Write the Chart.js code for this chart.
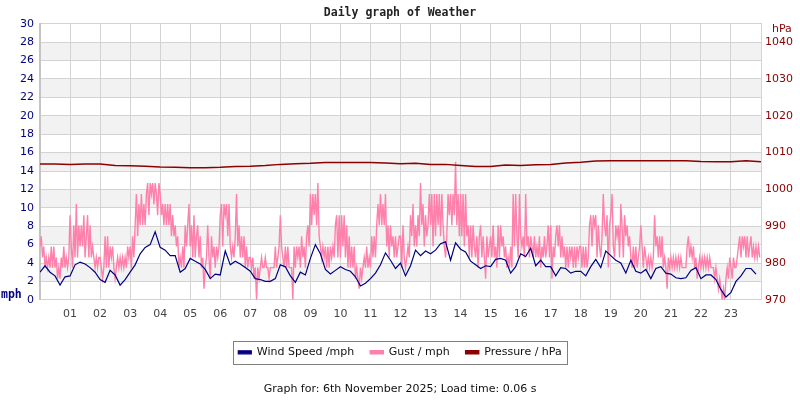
<!DOCTYPE html>
<html>
<head>
<meta charset="utf-8">
<script src="https://cdn.jsdelivr.net/npm/chart.js@4.4.1/dist/chart.umd.min.js"></script>
<style>
  html, body { margin: 0; padding: 0; background: #fff; }
  canvas { display: block; }
</style>
</head>
<body>
<canvas id="weatherChart" width="800" height="400"></canvas>
<script>
// Hour labels along the bottom
const hourLabels = ['01','02','03','04','05','06','07','08','09','10','11','12',
  '13','14','15','16','17','18','19','20','21','22','23'];

// Wind speed, mph, one reading every 10 minutes (6 per hour)
const windSpeed = [
  3.0, 3.7, 3.0, 2.6, 1.6, 2.5,
  2.6, 3.8, 4.1, 3.9, 3.5, 3.0,
  2.2, 1.9, 3.2, 2.7, 1.6, 2.2,
  3.0, 3.8, 5.0, 5.7, 6.0, 7.4,
  5.7, 5.4, 4.8, 4.8, 3.0, 3.4,
  4.5, 4.2, 3.9, 3.3, 2.3, 2.8,
  2.7, 5.3, 3.8, 4.2, 3.9, 3.5,
  3.1, 2.3, 2.2, 2.0, 2.0, 2.3,
  3.8, 3.6, 2.6, 1.9, 3.0, 2.7,
  4.5, 6.0, 5.0, 3.3, 2.8, 3.2,
  3.6, 3.3, 3.1, 2.5, 1.5, 1.8,
  2.3, 2.9, 3.8, 5.1, 4.3, 3.4,
  4.0, 2.6, 3.7, 5.4, 4.8, 5.3,
  5.0, 5.4, 6.1, 6.3, 4.3, 6.2,
  5.5, 5.2, 4.2, 3.8, 3.4, 3.7,
  3.6, 4.4, 4.5, 4.3, 2.9, 3.6,
  5.0, 4.7, 5.6, 3.7, 4.3, 3.6,
  3.6, 2.6, 3.5, 3.4, 2.9, 3.1,
  3.1, 2.6, 3.6, 4.4, 3.5, 5.3,
  4.8, 4.3, 4.0, 2.9, 4.3, 3.1,
  2.9, 3.3, 2.3, 3.4, 3.6, 2.9,
  2.8, 2.4, 2.3, 2.4, 3.2, 3.5,
  2.3, 2.7, 2.7, 2.2, 1.1, 0.3,
  0.8, 2.0, 2.6, 3.4, 3.4, 2.8
];

// Gust, mph, one reading every 2.5 minutes (24 per hour, one row per hour)
const gust = [
  5.8, 6.9, 4.6, 5.8, 3.5, 4.6, 3.5, 4.6, 3.5, 5.8, 3.5, 5.8, 3.5, 4.6, 2.3, 3.5, 2.3, 4.6, 3.5, 5.8, 3.5, 4.6, 3.5, 4.6,
  9.2, 5.8, 3.5, 8.1, 4.6, 10.4, 4.6, 8.1, 5.8, 8.1, 5.8, 9.2, 4.6, 6.9, 9.2, 4.6, 8.1, 4.6, 5.8, 4.6, 3.5, 4.6, 3.5, 4.6,
  4.6, 3.5, 2.3, 3.5, 6.9, 3.5, 6.9, 3.5, 5.8, 4.6, 5.8, 3.5, 2.3, 3.5, 4.6, 3.5, 4.6, 3.5, 4.6, 3.5, 4.6, 3.5, 5.8, 4.6,
  5.8, 3.5, 6.9, 4.6, 8.1, 11.5, 6.9, 10.4, 8.1, 11.5, 8.1, 10.4, 8.1, 11.5, 12.7, 9.2, 12.7, 11.5, 12.7, 10.4, 12.7, 11.5, 9.2, 12.7,
  11.5, 9.2, 10.4, 8.1, 10.4, 8.1, 10.4, 8.1, 10.4, 6.9, 9.2, 6.9, 8.1, 5.8, 6.9, 3.5, 4.6, 3.5, 5.8, 3.5, 8.1, 5.8, 8.1, 10.4,
  5.8, 8.1, 4.6, 9.2, 4.6, 6.9, 8.1, 4.6, 6.9, 3.5, 4.6, 1.2, 3.5, 4.6, 8.1, 4.6, 2.3, 6.9, 4.6, 5.8, 3.5, 5.8, 4.6, 5.8,
  9.2, 10.4, 5.8, 10.4, 9.2, 10.4, 6.9, 10.4, 5.8, 4.6, 5.8, 4.6, 6.9, 11.5, 5.8, 8.1, 4.6, 6.9, 4.6, 6.9, 3.5, 5.8, 3.5, 4.6,
  4.6, 3.5, 4.6, 2.3, 3.5, 0, 3.5, 2.3, 3.5, 4.6, 3.5, 3.5, 4.6, 3.5, 3.5, 2.3, 3.5, 3.5, 3.5, 3.5, 5.8, 3.5, 4.6, 5.8,
  9.2, 5.8, 4.6, 3.5, 5.8, 3.5, 5.8, 3.5, 3.5, 3.5, 0, 5.8, 3.5, 5.8, 4.6, 5.8, 3.5, 6.9, 4.6, 5.8, 3.5, 6.9, 8.1, 5.8,
  11.5, 8.1, 11.5, 9.2, 11.5, 8.1, 12.7, 6.9, 5.8, 4.6, 5.8, 4.6, 5.8, 3.5, 5.8, 3.5, 5.8, 4.6, 5.8, 4.6, 8.1, 9.2, 4.6, 9.2,
  4.6, 9.2, 5.8, 9.2, 4.6, 8.1, 3.5, 6.9, 3.5, 5.8, 3.5, 5.8, 2.3, 3.5, 2.3, 1.2, 3.5, 2.3, 3.5, 4.6, 3.5, 5.8, 3.5, 4.6,
  3.5, 6.9, 4.6, 6.9, 4.6, 8.1, 10.4, 8.1, 11.5, 8.1, 10.4, 8.1, 11.5, 5.8, 8.1, 4.6, 8.1, 5.8, 6.9, 4.6, 6.9, 4.6, 5.8, 6.9,
  6.9, 3.5, 8.1, 4.6, 3.5, 4.6, 5.8, 4.6, 9.2, 6.9, 10.4, 5.8, 8.1, 5.8, 9.2, 6.9, 12.7, 8.1, 10.4, 5.8, 9.2, 6.9, 8.1, 11.5,
  8.1, 11.5, 5.8, 11.5, 6.9, 11.5, 8.1, 11.5, 6.9, 11.5, 8.1, 5.8, 4.6, 6.9, 11.5, 9.2, 11.5, 8.1, 11.5, 9.2, 15.0, 8.1, 11.5, 6.9,
  11.5, 6.9, 11.5, 5.8, 11.5, 6.9, 8.1, 4.6, 8.1, 4.6, 8.1, 5.8, 4.6, 6.9, 3.5, 6.9, 8.1, 4.6, 6.9, 4.6, 2.3, 6.9, 4.6, 5.8,
  6.9, 4.6, 8.1, 4.6, 5.8, 3.5, 8.1, 4.6, 8.1, 5.8, 6.9, 4.6, 5.8, 3.5, 4.6, 3.5, 5.8, 3.5, 11.5, 5.8, 11.5, 6.9, 4.6, 11.5,
  6.9, 5.8, 6.9, 4.6, 11.5, 5.8, 6.9, 4.6, 6.9, 5.8, 4.6, 6.9, 4.6, 5.8, 4.6, 6.9, 3.5, 5.8, 4.6, 6.9, 4.6, 5.8, 8.1, 4.6,
  8.1, 2.3, 5.8, 4.6, 6.9, 8.1, 5.8, 8.1, 4.6, 6.9, 4.6, 5.8, 3.5, 5.8, 3.5, 5.8, 4.6, 5.8, 3.5, 5.8, 3.5, 5.8, 4.6, 5.8,
  5.8, 3.5, 5.8, 3.5, 5.8, 3.5, 4.6, 8.1, 9.2, 5.8, 9.2, 8.1, 9.2, 4.6, 8.1, 5.8, 4.6, 6.9, 11.5, 8.1, 6.9, 9.2, 3.5, 8.1,
  9.2, 11.5, 5.8, 4.6, 8.1, 6.9, 8.1, 4.6, 10.4, 8.1, 4.6, 9.2, 6.9, 8.1, 5.8, 6.9, 4.6, 3.5, 5.8, 3.5, 5.8, 3.5, 4.6, 5.8,
  8.1, 5.8, 3.5, 5.8, 4.6, 3.5, 4.6, 3.5, 4.6, 3.5, 4.6, 9.2, 5.8, 6.9, 4.6, 6.9, 4.6, 6.9, 3.5, 4.6, 3.5, 1.2, 4.6, 3.5,
  4.6, 3.5, 4.6, 3.5, 4.6, 3.5, 4.6, 3.5, 4.6, 3.5, 3.5, 3.5, 3.5, 5.8, 6.9, 4.6, 5.8, 4.6, 5.8, 3.5, 4.6, 2.3, 3.5, 4.6,
  3.5, 4.6, 3.5, 4.6, 3.5, 4.6, 3.5, 4.6, 3.5, 3.5, 3.5, 2.3, 3.5, 2.3, 1.2, 2.3, 1.2, 0, 1.2, 0, 2.3, 3.5, 2.3, 4.6,
  3.5, 2.3, 4.6, 3.5, 3.5, 4.6, 5.8, 6.9, 4.6, 6.9, 5.8, 6.9, 4.6, 6.9, 4.6, 5.8, 6.9, 4.6, 5.8, 4.6, 5.8, 4.6, 5.8, 4.6
];

// Pressure, hPa, every half hour from 00:00 to 24:00
const pressure = [
  1006.9, 1006.9, 1006.8, 1006.9, 1006.9, 1006.5, 1006.4, 1006.3,
  1006.1, 1006.0, 1005.9, 1005.9, 1006.0, 1006.2, 1006.3, 1006.5,
  1006.8, 1007.0, 1007.1, 1007.3, 1007.3, 1007.3, 1007.3, 1007.2,
  1007.0, 1007.1, 1006.8, 1006.8, 1006.5, 1006.2, 1006.2, 1006.6,
  1006.5, 1006.7, 1006.8, 1007.2, 1007.4, 1007.7, 1007.8, 1007.8,
  1007.8, 1007.8, 1007.8, 1007.8, 1007.6, 1007.5, 1007.5, 1007.8,
  1007.5
];

const WIND_STEP = 10 / 60;   // hours between wind readings
const GUST_STEP = 2.5 / 60;  // hours between gust readings
const PRESS_STEP = 0.5;      // hours between pressure readings

const toPoints = (arr, step) => arr.map((v, i) => ({ x: i * step, y: v }));

const NAVY = '#000080';
const PINK = '#ff80aa';
const DARK_RED = '#8b0000';
const GRID = '#d3d3d3';

// shaded horizontal bands, every other 2 mph step
const bandsPlugin = {
  id: 'bands',
  beforeDraw(chart) {
    const { ctx, chartArea } = chart;
    const y = chart.scales.y;
    ctx.save();
    ctx.fillStyle = '#f2f2f2';
    y.ticks.forEach(t => {
      if (t.value % 4 === 2 && t.value + 2 <= y.max) {
        const top = y.getPixelForValue(t.value + 2);
        const bottom = y.getPixelForValue(t.value);
        ctx.fillRect(chartArea.left, top, chartArea.right - chartArea.left, bottom - top);
      }
    });
    ctx.restore();
  }
};

// legend frame and unit captions
const extrasPlugin = {
  id: 'extras',
  afterDraw(chart) {
    const { ctx, chartArea } = chart;
    const boxes = chart.legend.legendHitBoxes;
    if (boxes && boxes.length) {
      const left = Math.min(...boxes.map(b => b.left)) - 5;
      const right = Math.max(...boxes.map(b => b.left + b.width)) + 6;
      const top = boxes[0].top - 6;
      const bottom = boxes[0].top + boxes[0].height + 6;
      ctx.save();
      ctx.strokeStyle = '#808080';
      ctx.lineWidth = 1;
      ctx.strokeRect(Math.round(left) + 0.5, Math.round(top) + 0.5,
        Math.round(right - left), Math.round(bottom - top));
      ctx.restore();
    }
    ctx.save();
    ctx.textBaseline = 'middle';
    ctx.textAlign = 'left';
    ctx.fillStyle = NAVY;
    ctx.font = 'bold 11.5px "DejaVu Sans Mono"';
    ctx.fillText('mph', 1, chartArea.bottom - 5);
    ctx.fillStyle = DARK_RED;
    ctx.font = '11px "DejaVu Sans"';
    ctx.fillText('hPa', 772, 29);
    ctx.restore();
  }
};

new Chart(document.getElementById('weatherChart'), {
  type: 'line',
  data: {
    datasets: [
      {
        label: 'Wind Speed /mph',
        data: toPoints(windSpeed, WIND_STEP),
        borderColor: NAVY,
        backgroundColor: NAVY,
        borderWidth: 1.2,
        pointRadius: 0,
        yAxisID: 'y',
        order: 1
      },
      {
        label: 'Gust / mph',
        data: toPoints(gust, GUST_STEP),
        borderColor: PINK,
        backgroundColor: PINK,
        borderWidth: 1.4,
        pointRadius: 0,
        yAxisID: 'y',
        order: 2
      },
      {
        label: 'Pressure / hPa',
        data: toPoints(pressure, PRESS_STEP),
        borderColor: DARK_RED,
        backgroundColor: DARK_RED,
        borderWidth: 1.5,
        pointRadius: 0,
        yAxisID: 'y1',
        order: 0
      }
    ]
  },
  options: {
    responsive: false,
    animation: false,
    devicePixelRatio: 1,
    layout: { padding: 0 },
    scales: {
      x: {
        type: 'linear',
        min: 0,
        max: 24,
        afterFit: s => { s.height = 31; },
        grid: { color: GRID, drawTicks: false },
        border: { display: false },
        ticks: {
          stepSize: 1,
          padding: 8,
          color: '#444',
          font: { family: 'DejaVu Sans', size: 11 },
          maxRotation: 0,
          autoSkip: false,
          callback: v => hourLabels[v - 1] || ''
        }
      },
      y: {
        position: 'left',
        min: 0,
        max: 30,
        afterFit: s => { s.width = 40; },
        grid: { color: GRID, drawTicks: false },
        border: { display: true, color: '#c4c4c4', width: 2 },
        ticks: {
          stepSize: 2,
          padding: 6,
          color: NAVY,
          font: { family: 'DejaVu Sans', size: 11 }
        }
      },
      y1: {
        position: 'right',
        min: 970,
        max: 1045,
        afterFit: s => { s.width = 39; },
        grid: { drawOnChartArea: false, drawTicks: false },
        border: { display: true, color: GRID, width: 1 },
        ticks: {
          stepSize: 10,
          includeBounds: false,
          padding: 4,
          color: DARK_RED,
          font: { family: 'DejaVu Sans', size: 11 },
          callback: v => String(v)
        }
      }
    },
    plugins: {
      title: {
        display: true,
        text: 'Daily graph of Weather',
        color: '#222',
        font: { family: 'DejaVu Sans Mono', size: 11.5, weight: 'bold' },
        padding: { top: 6, bottom: 4 }
      },
      subtitle: {
        display: true,
        position: 'bottom',
        text: 'Graph for: 6th November 2025; Load time: 0.06 s',
        color: '#111',
        font: { family: 'DejaVu Sans', size: 11 },
        padding: { top: 15, bottom: 4 }
      },
      legend: {
        position: 'bottom',
        labels: {
          boxWidth: 13,
          boxHeight: 3,
          padding: 16,
          color: '#111',
          font: { family: 'DejaVu Sans', size: 11 },
          sort: (a, b) => a.datasetIndex - b.datasetIndex
        }
      },
      tooltip: { enabled: false }
    }
  },
  plugins: [bandsPlugin, extrasPlugin]
});
</script>
</body>
</html>
